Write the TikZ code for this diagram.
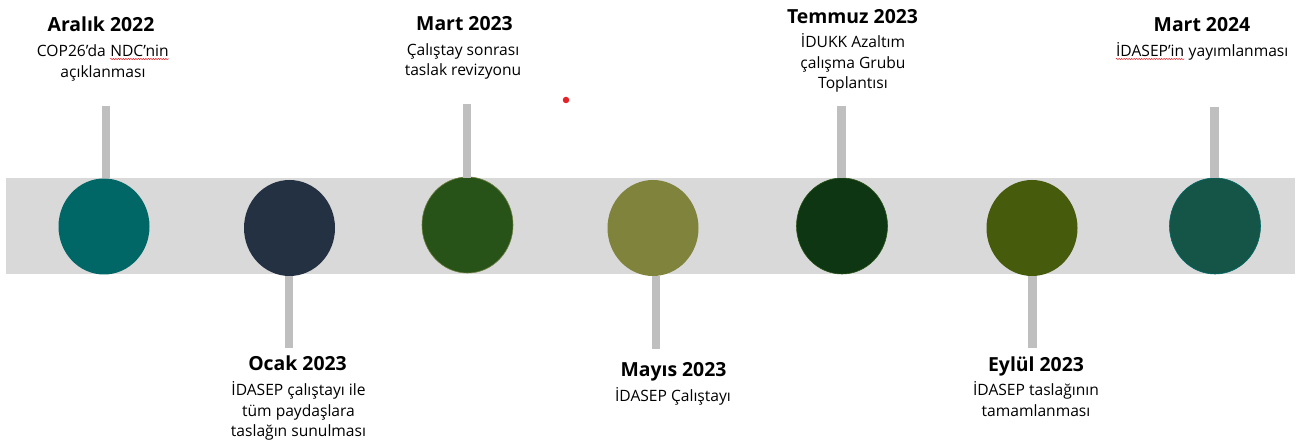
\documentclass[tikz,border=0pt]{standalone}
\usepackage{fontspec}
\setmainfont{Open Sans}
\usetikzlibrary{shapes.geometric,decorations.pathmorphing}
\definecolor{bandgray}{HTML}{D9D9D9}
\definecolor{stemgray}{HTML}{BFBFBF}
\definecolor{cA}{HTML}{006766}
\definecolor{cB}{HTML}{243142}
\definecolor{cC}{HTML}{285318}
\definecolor{cD}{HTML}{80833C}
\definecolor{cE}{HTML}{0E3612}
\definecolor{cF}{HTML}{465C0C}
\definecolor{cG}{HTML}{155548}
\definecolor{dotred}{HTML}{E52228}
\newcommand{\spellmark}[1]{\tikz[baseline=(sw.base)]{\node[inner sep=0pt,anchor=base](sw){#1};\draw[dotred,line width=0.5pt,decorate,decoration={snake,amplitude=0.6pt,segment length=2.5pt}]([yshift=-2pt]sw.base west)--([yshift=-2pt]sw.base east);}}
\tikzset{
  dotnode/.style={ellipse,inner sep=0pt,minimum width=91pt,minimum height=96pt},
  stemline/.style={stemgray,line width=8.5pt},
  titletext/.style={anchor=base,inner sep=0pt,font=\bfseries\fontsize{19.4}{24}\selectfont},
  bodytext/.style={anchor=base,inner sep=0pt,align=center,font=\fontsize{15.6}{20.5}\selectfont},
}
\begin{document}
\begin{tikzpicture}[x=1pt,y=-1pt]
\useasboundingbox[fill=white] (0,0) rectangle (1309,443);
\fill[bandgray] (6,178) rectangle (1295,274);
% circles
\node[dotnode,fill=cA] (c1) at (104,226.5) {};
\node[dotnode,fill=cB] (c2) at (289.5,228) {};
\node[dotnode,fill=cC,draw=cF!80,line width=0.6pt] (c3) at (467.5,225) {};
\node[dotnode,fill=cD] (c4) at (653,228) {};
\node[dotnode,fill=cE,draw=cC,line width=0.6pt] (c5) at (842,226) {};
\node[dotnode,fill=cF] (c6) at (1032,228) {};
\node[dotnode,fill=cG,draw=cA,line width=0.6pt] (c7) at (1215,226) {};
% stem ends
\coordinate (s1) at (106,106);
\coordinate (s2) at (289,348);
\coordinate (s3) at (467,104);
\coordinate (s4) at (656,349);
\coordinate (s5) at (841.5,106);
\coordinate (s6) at (1032.5,348);
\coordinate (s7) at (1214.5,107);
\draw[stemline] (s1) -- (s1 |- 0,178.5);
\draw[stemline] (s3) -- (s3 |- 0,178.5);
\draw[stemline] (s5) -- (s5 |- 0,178.5);
\draw[stemline] (s7) -- (s7 |- 0,178.5);
\draw[stemline] (s2 |- c2.south) -- (s2);
\draw[stemline] (s4 |- c4.south) -- (s4);
\draw[stemline] (s6 |- c6.south) -- (s6);
% texts (body nodes are anchored at the baseline of their last line)
\node[titletext] (t1) at (101,32) {Aralık 2022};
\node[bodytext] (b1) at (103,77.5) {COP26’da \spellmark{NDC’nin}\\açıklanması};
\node[titletext] (t3) at (464.5,31) {Mart 2023};
\node[bodytext] (b3) at (463,76) {Çalıştay sonrası\\taslak revizyonu};
\node[titletext] (t5) at (852.5,24) {Temmuz 2023};
\node[bodytext] (b5) at (853,89) {İDUKK Azaltım\\çalışma Grubu\\Toplantısı};
\node[titletext] (t7) at (1202,32) {Mart 2024};
\node[bodytext] (b7) at (1202,57) {\spellmark{İDASEP’in} yayımlanması};
\node[titletext] (t2) at (297.5,371) {Ocak 2023};
\node[bodytext] (b2) at (298.5,436.5) {İDASEP çalıştayı ile\\tüm paydaşlara\\taslağın sunulması};
\node[titletext] (t4) at (673.5,377) {Mayıs 2023};
\node[bodytext] (b4) at (673,401) {İDASEP Çalıştayı};
\node[titletext] (t6) at (1036,372) {Eylül 2023};
\node[bodytext] (b6) at (1036,416) {İDASEP taslağının\\tamamlanması};
\node[circle,fill=dotred,inner sep=0pt,minimum size=6.5pt] (rd) at (566,100) {};
\end{tikzpicture}
\end{document}
